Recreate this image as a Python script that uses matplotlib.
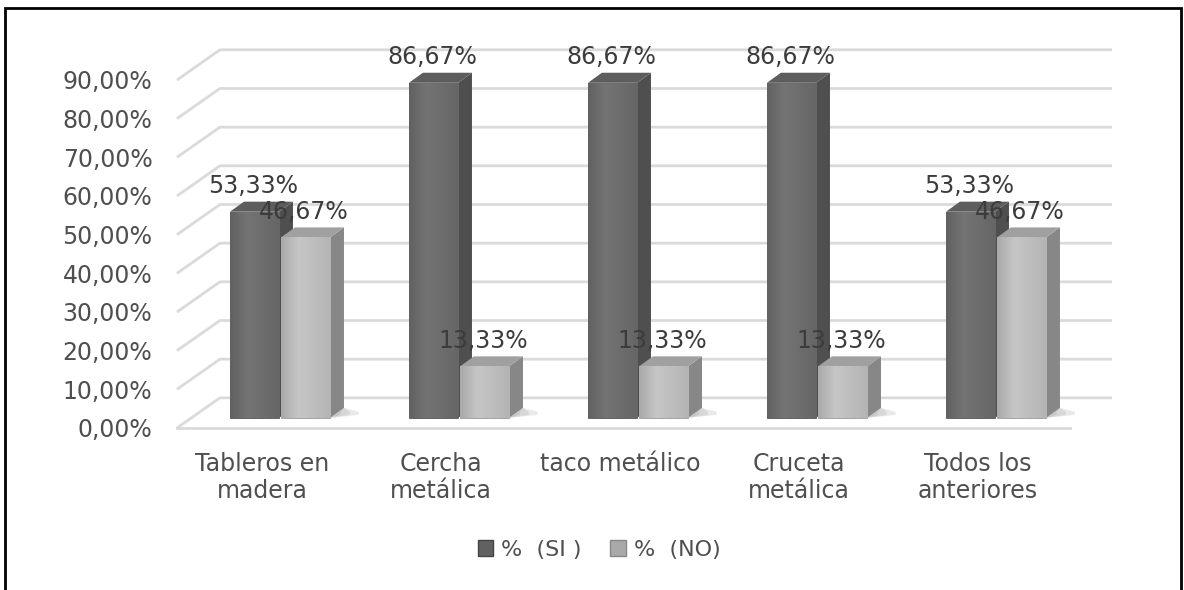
import matplotlib
matplotlib.use("Agg")
import matplotlib.pyplot as plt
import numpy as np
from matplotlib.patches import Polygon, Rectangle, Patch

plt.rcParams['font.family'] = ['DejaVu Sans']

categorias = ['Tableros en\nmadera', 'Cercha\nmetálica', 'taco metálico',
              'Cruceta\nmetálica', 'Todos los\nanteriores']
si = [53.33, 86.67, 86.67, 86.67, 53.33]
no = [46.67, 13.33, 13.33, 13.33, 46.67]
series = ['%  (SI )', '%  (NO)']
yticks = [0, 10, 20, 30, 40, 50, 60, 70, 80, 90]

W, H = 1184, 590
fig = plt.figure(figsize=(W / 100, H / 100), dpi=100)

# axes placed so that one category = 179 px and 10 % = 38.67 px
xlo, xhi = -0.55, 4.85
ylo, yhi = -3, 100
px_x = lambda u: 262 + 179 * u
px_y = lambda v: 428 - 3.867 * v
left, right = px_x(xlo), px_x(xhi)
bot, top = px_y(ylo), px_y(yhi)
ax = fig.add_axes([left / W, (H - bot) / H, (right - left) / W, (bot - top) / H])
ax.set_xlim(xlo, xhi)
ax.set_ylim(ylo, yhi)
for s in ax.spines.values():
    s.set_visible(False)

# pseudo 3D geometry (data units)
DX, DY = 0.24, 7.8          # full depth of the floor
dx, dy = 0.078, 2.6         # depth of one bar
X0, BW, GAP = -0.179, 0.274, 0.011
x_floor0, x_floor1 = -0.475, 4.514
grid_c = '#dadada'

for v in yticks:
    ax.plot([x_floor0, x_floor0 + DX, x_floor1 + DX - 0.005], [v, v + DY, v + DY],
            color=grid_c, lw=2, zorder=1, clip_on=False, solid_capstyle='butt')
ax.plot([x_floor0, x_floor1], [0, 0], color=grid_c, lw=2, zorder=1)

colores = [
    dict(front=('#616161', '#747474', '#666666'), side='#4f4f4f', top='#5d5d5d', edge='#585858'),
    dict(front=('#a9a9a9', '#c6c6c6', '#b4b4b4'), side='#878787', top='#a0a0a0', edge='#9c9c9c'),
]


def gradiente(cols):
    rgb = np.array([matplotlib.colors.to_rgb(c) for c in cols])
    t = np.linspace(0, 1, 64)
    pos = np.array([0, 0.35, 1])
    return np.stack([np.interp(t, pos, rgb[:, k]) for k in range(3)], axis=-1)[None, :, :]


z = 2
for i in range(len(categorias)):
    # soft floor shadow behind/right of each group
    xs = i + X0 + 2 * BW + GAP
    for k, a in enumerate([0.18, 0.18, 0.2]):
        w = 0.16 - 0.05 * k
        ax.add_patch(Polygon([(xs, dy), (xs + w, dy + 0.8), (xs + w, dy + 1.6),
                              (xs + dx, 2 * dy)], closed=True, fc='#8a8a8a',
                             ec='none', alpha=a, zorder=z))
    for s, vals in enumerate([si, no]):
        v = vals[i]
        c = colores[s]
        xl = i + X0 + s * (BW + GAP)
        xr = xl + BW
        b = dy
        t = b + v
        z += 1
        ax.add_patch(Polygon([(xr, b), (xr + dx, b + dy), (xr + dx, t + dy), (xr, t)],
                             closed=True, fc=c['side'], ec='none', zorder=z))
        ax.add_patch(Polygon([(xl, t), (xr, t), (xr + dx, t + dy), (xl + dx, t + dy)],
                             closed=True, fc=c['top'], ec='none', zorder=z))
        barra = ax.bar(xl, v, width=BW, bottom=b, align='edge', color=c['front'][1],
                       edgecolor=c['edge'], linewidth=0.6, zorder=z)[0]
        img = ax.imshow(gradiente(c['front']), extent=(xl, xr, b, t), aspect='auto',
                        interpolation='bilinear', zorder=z)
        img.set_clip_path(barra)

ax.set_xlim(xlo, xhi)
ax.set_ylim(ylo, yhi)

# value labels above each bar
for i in range(len(categorias)):
    for s, vals in enumerate([si, no]):
        v = vals[i]
        xc = i + X0 + s * (BW + GAP) + BW / 2
        ax.annotate(f'{v:.2f}%'.replace('.', ','), (xc, dy + v + dy),
                    xytext=(-1, 6), textcoords='offset points', ha='center',
                    va='baseline', fontsize=17, color='#3c3c3c', zorder=50,
                    annotation_clip=False)

ax.set_yticks(yticks)
ax.set_yticklabels([f'{v:.2f}%'.replace('.', ',') for v in yticks])
ax.set_xticks(range(len(categorias)))
ax.set_xticklabels(categorias, linespacing=1.15)
ax.tick_params(axis='y', length=0, pad=8, labelsize=17, labelcolor='#4f4f4f')
ax.tick_params(axis='x', length=0, pad=9, labelsize=17, labelcolor='#4f4f4f')

handles = [Patch(fc=colores[0]['front'][0], ec='#444444'),
           Patch(fc=colores[1]['front'][0], ec='#888888')]
fig.legend(handles, series, loc='center', bbox_to_anchor=(599 / W, 1 - 550 / H),
           ncol=2, frameon=False, fontsize=16, labelcolor='#4f4f4f',
           handlelength=0.7, handleheight=0.7, handletextpad=0.35, columnspacing=1.3)

# outer frame
fig.add_artist(Rectangle((5 / W, -0.02), (1181 - 5) / W, (H - 8) / H + 0.02,
                         transform=fig.transFigure, fill=False, ec='black', lw=2))

fig.savefig('out.png', dpi=100)
